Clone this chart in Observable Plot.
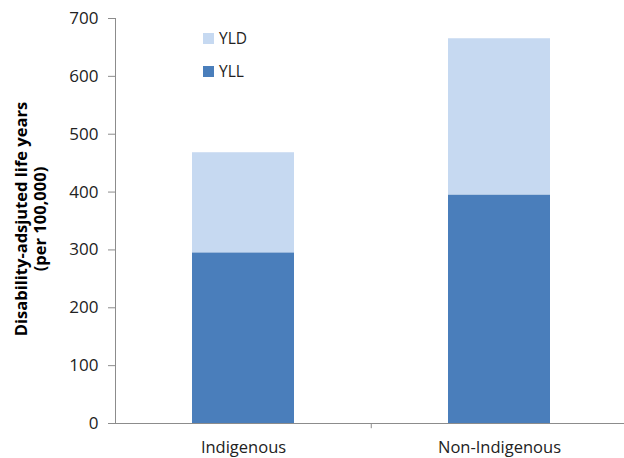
<!DOCTYPE html>
<html><head><meta charset="utf-8">
<script src="https://cdn.jsdelivr.net/npm/d3@7"></script>
<script src="https://cdn.jsdelivr.net/npm/@observablehq/plot@0.6"></script>
<style>
body{margin:0;background:#fff;}
#wrap{position:relative;width:624px;height:458px;font-family:"Open Sans",sans-serif;}
.leg{position:absolute;left:203px;display:flex;align-items:center;font-size:15.5px;line-height:20px;color:#222;}
.leg span.sw{display:inline-block;width:11px;height:11px;margin-right:5px;}
</style>
</head><body><div id="wrap"></div>
<script>
const categories = ["Indigenous", "Non-Indigenous"];
const series = ["YLL", "YLD"];
const yllValues = [295, 395];
const yldValues = [173, 270];
const yTicks = [0, 100, 200, 300, 400, 500, 600, 700];
const seriesColors = ["#4A7EBB", "#C6D9F1"];
const yLabel = "Disability-adsjuted life years\n(per 100,000)";

const data = categories.flatMap((c, i) => [
  {category: c, series: "YLL", value: yllValues[i]},
  {category: c, series: "YLD", value: yldValues[i]}
]);

const chart = Plot.plot({
  width: 624,
  height: 458,
  marginTop: 18,
  marginBottom: 35,
  marginLeft: 115,
  marginRight: 0,
  style: {fontFamily: "Open Sans, sans-serif", fontSize: "16px", color: "#222", background: "#fff"},
  x: {domain: categories, range: [115, 628], paddingInner: 0.6, paddingOuter: 0.3},
  y: {domain: [0, 700]},
  color: {domain: series, range: seriesColors},
  marks: [
    Plot.barY(data, Plot.stackY({x: "category", y: "value", fill: "series", order: series})),
    Plot.frame({anchor: "left", stroke: "#8c8c8c"}),
    Plot.ruleY([0], {stroke: "#8c8c8c"}),
    Plot.ruleX(categories.slice(1), {x: d => d, dx: -128.25, y1: 0, y2: -9, stroke: "#8c8c8c"}),
    Plot.axisY({ticks: yTicks, tickSize: 7, tickPadding: 10, stroke: "#8c8c8c", label: null, fontSize: 17}),
    Plot.axisX({tickSize: 0, tickPadding: 18, label: null, fontSize: 16.5}),
    Plot.text([yLabel], {frameAnchor: "left", textAnchor: "middle", lineAnchor: "middle", dx: -85, dy: -2, rotate: -90, fontWeight: "bold", fontSize: 16.5, lineHeight: 1.15, fill: "#000"})
  ]
});
const wrap = document.getElementById("wrap");
wrap.appendChild(chart);
const legendOrder = [...series].reverse();
legendOrder.forEach((s, i) => {
  const d = document.createElement("div");
  d.className = "leg";
  d.style.top = (28 + i * 33) + "px";
  d.innerHTML = `<span class="sw" style="background:${seriesColors[series.indexOf(s)]}"></span>${s}`;
  wrap.appendChild(d);
});
</script>
</body></html>
